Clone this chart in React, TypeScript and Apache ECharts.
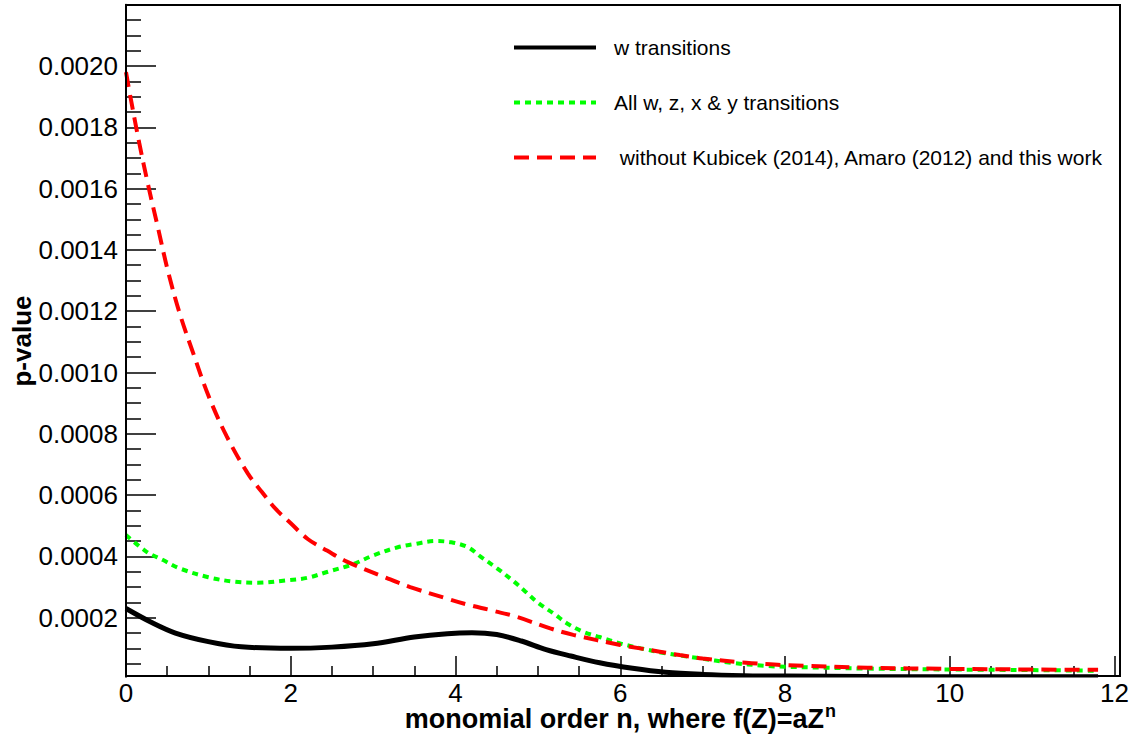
import React, { useEffect, useRef } from "react";
import * as echarts from "echarts";

const xTickLabels = ["0", "2", "4", "6", "8", "10", "12"];
const yTickLabels = ["0.0002", "0.0004", "0.0006", "0.0008", "0.0010", "0.0012", "0.0014", "0.0016", "0.0018", "0.0020"];

const seriesNames = ["w transitions", "All w, z, x & y transitions", " without Kubicek (2014), Amaro (2012) and this work"];

const xW = [0, 0.3, 0.6, 1.0, 1.4, 2.0, 2.5, 3.0, 3.5, 3.9, 4.2, 4.5, 4.8, 5.1, 5.4, 5.75, 6.15, 6.55, 7.0, 7.5, 8.0, 9.0, 10.0, 11.0, 11.8];
const yW = [0.00023, 0.000186, 0.00015, 0.000122, 0.000105, 0.0001, 0.000104, 0.000115, 0.000137, 0.000148, 0.000151, 0.000145, 0.000124, 0.000096, 0.000075, 0.000053, 0.000035, 0.000022, 0.000015, 0.000011, 0.0000095, 0.000008, 0.0000075, 0.000007, 0.000007];

const xAll = [0, 0.25, 0.45, 0.65, 1.0, 1.3, 1.6, 1.95, 2.2, 2.45, 2.75, 3.0, 3.3, 3.5, 3.75, 3.95, 4.15, 4.3, 4.5, 4.7, 4.85, 5.0, 5.2, 5.35, 5.55, 5.75, 6.0, 6.25, 6.55, 6.95, 7.35, 7.75, 8.0, 9.0, 10.0, 11.0, 11.8];
const yAll = [0.00047, 0.000415, 0.000388, 0.000361, 0.000332, 0.000318, 0.000314, 0.000322, 0.00033, 0.00035, 0.000374, 0.000403, 0.00043, 0.00044, 0.00045, 0.000446, 0.00043, 0.0004, 0.000362, 0.00032, 0.000285, 0.000249, 0.000212, 0.000182, 0.000154, 0.000137, 0.000116, 0.0001, 0.000084, 0.000068, 0.000053, 0.000043, 0.00004, 0.000034, 0.000031, 0.000029, 0.000027];

const xNo = [0, 0.06, 0.16, 0.27, 0.39, 0.51, 0.655, 0.82, 1.0, 1.22, 1.48, 1.65, 1.82, 2.0, 2.21, 2.44, 2.68, 3.16, 3.45, 3.89, 4.17, 4.42, 4.74, 5.15, 5.43, 6.0, 6.24, 6.72, 7.0, 7.53, 7.82, 8.0, 9.0, 10.0, 11.0, 11.8];
const yNo = [0.00198, 0.00189, 0.00175, 0.00161, 0.00147, 0.00133, 0.00119, 0.00106, 0.000925, 0.000793, 0.00067, 0.00061, 0.000554, 0.000508, 0.000456, 0.000419, 0.000383, 0.00033, 0.0003, 0.000263, 0.000241, 0.000225, 0.000203, 0.000165, 0.000144, 0.000111, 0.0001, 0.000078, 0.000067, 0.000053, 0.000048, 0.000045, 0.000037, 0.000033, 0.000031, 0.00003];

const FONT = "'Liberation Sans', Arial, Helvetica, sans-serif";

export default function App() {
  const ref = useRef<HTMLDivElement>(null);
  useEffect(() => {
    if (!ref.current) return;
    const chart = echarts.init(ref.current, null, { renderer: "svg" });
    const pair = (xs: number[], ys: number[]) => xs.map((x, i) => [x, ys[i]]);
    chart.setOption({
      animation: false,
      backgroundColor: "#ffffff",
      grid: { left: 126, right: 17, top: 4.7, bottom: 59, containLabel: false },
      xAxis: {
        type: "value",
        min: 0,
        max: 12,
        interval: 2,
        offset: -3,
        axisLine: { show: true, lineStyle: { color: "#000", width: 2 } },
        axisTick: { show: true, inside: true, length: 20, lineStyle: { color: "#000", width: 1.5 } },
        minorTick: { show: true, splitNumber: 4, length: 10, lineStyle: { color: "#000", width: 1.5 } },
        splitLine: { show: false },
        axisLabel: {
          color: "#000",
          fontSize: 26,
          lineHeight: 20,
          fontFamily: FONT,
          margin: 7,
          formatter: (v: number) => {
            const s = String(Math.round(v));
            return xTickLabels.includes(s) ? s : "";
          },
        },
      },
      yAxis: {
        type: "value",
        min: 0,
        max: 0.0022,
        interval: 0.0002,
        axisLine: { show: true, lineStyle: { color: "#000", width: 2 } },
        axisTick: { show: true, inside: true, length: 30, lineStyle: { color: "#000", width: 1.5 } },
        minorTick: { show: true, splitNumber: 4, length: 15, lineStyle: { color: "#000", width: 1.5 } },
        splitLine: { show: false },
        axisLabel: {
          color: "#000",
          fontSize: 26,
          fontFamily: FONT,
          margin: 8,
          formatter: (v: number) => {
            const s = v.toFixed(4);
            return yTickLabels.includes(s) ? s : "";
          },
        },
      },
      legend: {
        orient: "vertical",
        left: 512,
        top: 37,
        padding: 0,
        itemWidth: 82,
        itemHeight: 20,
        itemGap: 34,
        selectedMode: false,
        itemStyle: { opacity: 0 },
        lineStyle: { width: 4 },
        textStyle: { color: "#000", fontSize: 21, fontFamily: FONT, lineHeight: 20, padding: [0, 0, 0, 13] },
        data: seriesNames,
      },
      graphic: [
        {
          type: "rect",
          z: 100,
          shape: { x: 100, y: 677.5, width: 1030, height: 5 },
          style: { fill: "#fff" },
          silent: true,
        },
        {
          type: "rect",
          z: 101,
          shape: { x: 126, y: 5, width: 994, height: 671 },
          style: { fill: "none", stroke: "#000", lineWidth: 2 },
          silent: true,
        },
        {
          type: "text",
          z: 101,
          x: 824,
          y: 719,
          style: {
            text: "monomial order n, where f(Z)=aZ",
            align: "right",
            verticalAlign: "middle",
            fill: "#000",
            fontSize: 27,
            fontWeight: "bold",
            fontFamily: FONT,
          },
        },
        {
          type: "text",
          z: 101,
          x: 825,
          y: 711,
          style: {
            text: "n",
            align: "left",
            verticalAlign: "middle",
            fill: "#000",
            fontSize: 18,
            fontWeight: "bold",
            fontFamily: FONT,
          },
        },
        {
          type: "text",
          z: 101,
          x: 22,
          y: 341,
          rotation: Math.PI / 2,
          style: {
            text: "p-value",
            align: "center",
            verticalAlign: "middle",
            fill: "#000",
            fontSize: 26,
            fontWeight: "bold",
            fontFamily: FONT,
          },
        },
      ],
      series: [
        {
          name: seriesNames[0],
          type: "line",
          data: pair(xW, yW),
          smooth: 0.35,
          symbol: "none",
          lineStyle: { color: "#000", width: 5, type: "solid" },
          itemStyle: { color: "#000" },
          z: 3,
        },
        {
          name: seriesNames[1],
          type: "line",
          data: pair(xAll, yAll),
          smooth: 0.35,
          symbol: "none",
          lineStyle: { color: "#00ff00", width: 4, type: [6, 5] },
          itemStyle: { color: "#00ff00" },
          z: 4,
        },
        {
          name: seriesNames[2],
          type: "line",
          data: pair(xNo, yNo),
          smooth: 0.35,
          symbol: "none",
          lineStyle: { color: "#ff0000", width: 4, type: [15, 8] },
          itemStyle: { color: "#ff0000" },
          z: 5,
        },
      ],
    });
    return () => chart.dispose();
  }, []);
  return <div ref={ref} style={{ position: "fixed", left: 0, top: 0, width: 1132, height: 738 }} />;
}
